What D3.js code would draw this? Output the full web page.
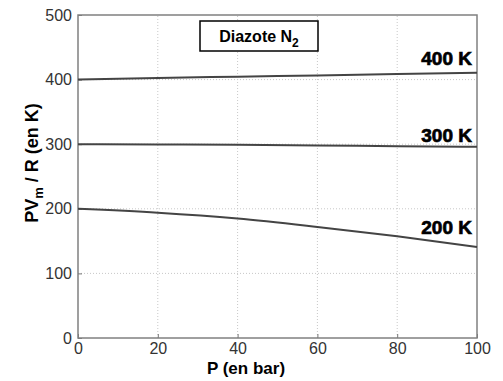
<!DOCTYPE html>
<html>
<head>
<meta charset="utf-8">
<script src="https://cdn.jsdelivr.net/npm/d3@7"></script>
<style>
  body { margin: 0; background: #fff; }
  svg { display: block; font-family: "Liberation Sans", Arial, sans-serif; }
</style>
</head>
<body>
<div id="chart"></div>
<script>
// pressure in bar
const pressures = [0, 20, 40, 60, 80, 100];
// PVm/R values, one list per temperature
const values400 = [400, 402.5, 404.5, 406.5, 408.5, 410.5];
const values300 = [300, 299.5, 299, 298, 297, 296];
const values200 = [200, 194, 185, 172, 157.5, 141];
const seriesLabels = ['400 K', '300 K', '200 K'];
const xTicks = [0, 20, 40, 60, 80, 100];
const yTicks = [0, 100, 200, 300, 400, 500];

const width = 503;
const height = 381;
const margin = { top: 15, right: 26, bottom: 43, left: 78 };

const svg = d3.select('#chart').append('svg')
  .attr('width', width)
  .attr('height', height);

const xScale = d3.scaleLinear().domain([0, 100]).range([margin.left, width - margin.right]);
const yScale = d3.scaleLinear().domain([0, 500]).range([height - margin.bottom, margin.top]);

// dotted grid
svg.append('g').selectAll('line.vx')
  .data(xTicks.slice(1, -1))
  .enter().append('line')
  .attr('x1', d => xScale(d)).attr('x2', d => xScale(d))
  .attr('y1', yScale(0)).attr('y2', yScale(500))
  .attr('stroke', '#c8c8c8').attr('stroke-dasharray', '1,2');

svg.append('g').selectAll('line.hy')
  .data(yTicks.slice(1, -1))
  .enter().append('line')
  .attr('x1', xScale(0)).attr('x2', xScale(100))
  .attr('y1', d => yScale(d)).attr('y2', d => yScale(d))
  .attr('stroke', '#c8c8c8').attr('stroke-dasharray', '1,2');

// axes
const xAxis = svg.append('g')
  .attr('transform', `translate(0,${yScale(0)})`)
  .call(d3.axisBottom(xScale).tickValues(xTicks).tickSize(-4).tickPadding(5));
const yAxis = svg.append('g')
  .attr('transform', `translate(${xScale(0)},0)`)
  .call(d3.axisLeft(yScale).tickValues(yTicks).tickSize(-4).tickPadding(6));

[xAxis, yAxis].forEach(ax => {
  ax.select('.domain').remove();
  ax.selectAll('.tick line').attr('stroke', '#777');
  ax.selectAll('.tick text')
    .attr('fill', '#333')
    .style('font-family', '"Liberation Sans", Arial, sans-serif')
    .style('font-size', '16px');
});
yAxis.selectAll('.tick text').attr('dy', '0.32em');

// frame
svg.append('rect')
  .attr('x', xScale(0)).attr('y', yScale(500))
  .attr('width', xScale(100) - xScale(0))
  .attr('height', yScale(0) - yScale(500))
  .attr('fill', 'none').attr('stroke', '#808080').attr('stroke-width', 1.5);

// curves
const line = d3.line()
  .x((d, i) => xScale(pressures[i]))
  .y(d => yScale(d))
  .curve(d3.curveMonotoneX);

[values400, values300, values200].forEach(vals => {
  svg.append('path')
    .datum(vals)
    .attr('d', line)
    .attr('fill', 'none')
    .attr('stroke', '#444')
    .attr('stroke-width', 2);
});

// curve labels (baseline positions in data units)
const labelY = [422, 303, 161];
svg.append('g').selectAll('text')
  .data(seriesLabels)
  .enter().append('text')
  .attr('x', xScale(100) - 5)
  .attr('y', (d, i) => yScale(labelY[i]))
  .attr('text-anchor', 'end')
  .style('font-size', '19px')
  .style('font-weight', 'bold')
  .style('stroke', '#000')
  .style('stroke-width', 0.7)
  .text(d => d);

// gas box
svg.append('rect')
  .attr('x', 200).attr('y', 21).attr('width', 118).attr('height', 30)
  .attr('fill', '#fff').attr('stroke', '#000').attr('stroke-width', 1.5);
const gas = svg.append('text')
  .attr('x', 259).attr('y', 42)
  .attr('text-anchor', 'middle')
  .style('font-size', '16px')
  .style('font-weight', 'bold');
gas.append('tspan').text('Diazote N');
gas.append('tspan').attr('dy', 5).style('font-size', '12px').text('2');

// axis titles
svg.append('text')
  .attr('x', 246).attr('y', 374)
  .attr('text-anchor', 'middle')
  .style('font-size', '17px')
  .style('font-weight', 'bold')
  .text('P (en bar)');

const yTitle = svg.append('text')
  .attr('transform', 'translate(38,163) rotate(-90)')
  .attr('text-anchor', 'middle')
  .style('font-size', '18px')
  .style('font-weight', 'bold');
yTitle.append('tspan').text('PV');
yTitle.append('tspan').attr('dy', 5).style('font-size', '13px').text('m');
yTitle.append('tspan').attr('dy', -5).text(' / R (en K)');
</script>
</body>
</html>
